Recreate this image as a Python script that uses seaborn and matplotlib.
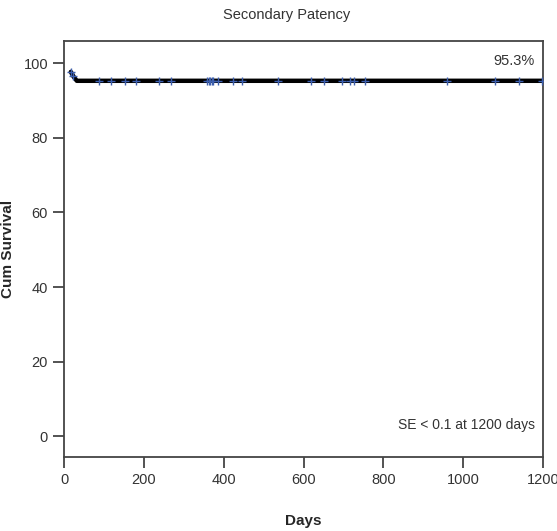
import numpy as np
import pandas as pd
import matplotlib
matplotlib.use("Agg")
import matplotlib.pyplot as plt
import seaborn as sns

# survival curve (days, cumulative survival %)
curve_days = [17, 24, 32, 1200]
curve_surv = [97.7, 96.4, 95.3, 95.3]

# censored observations
censor_days = [17, 23, 88, 118, 152, 179, 239, 268, 358, 362, 366, 370, 374,
               386, 424, 447, 537, 619, 652, 697, 717, 727, 754, 959, 1080,
               1140, 1198]


def surv_at(d):
    return float(np.interp(d, curve_days, curve_surv))


censor_surv = [surv_at(d) for d in censor_days]

sns.set_theme(style="white")
plt.rcParams['font.family'] = ['Liberation Sans', 'DejaVu Sans']

fig = plt.figure(figsize=(5.57, 5.31), dpi=100)
ax = fig.add_axes([0.115, 0.139, 0.86, 0.784])

curve = pd.DataFrame({"Days": curve_days, "Cum Survival": curve_surv})
cens = pd.DataFrame({"Days": censor_days, "Cum Survival": censor_surv})

sns.lineplot(data=curve, x="Days", y="Cum Survival", ax=ax,
             color="black", linewidth=3.2, zorder=2)
sns.scatterplot(data=cens, x="Days", y="Cum Survival", ax=ax,
                marker="+", color="#3d5fae", s=30, linewidth=1.0, zorder=3)

ax.set_xlim(0, 1200)
ax.set_ylim(-5.6, 106)
ax.set_xticks([0, 200, 400, 600, 800, 1000, 1200])
ax.set_yticks([0, 20, 40, 60, 80, 100])

for s in ax.spines.values():
    s.set_color("#444444")
    s.set_linewidth(1.3)

ax.tick_params(axis="both", direction="out", length=8, width=1.3,
               color="#444444", labelcolor="#333333", labelsize=10.5,
               bottom=True, left=True)

ax.set_xlabel("Days", fontsize=11, fontweight="bold", labelpad=19)
ax.set_ylabel("Cum Survival", fontsize=11, fontweight="bold", labelpad=6)
fig.suptitle("Secondary Patency", x=0.515, y=0.985, fontsize=10.5,
             color="#333333")

ax.text(1180, 100.5, "95.3%", ha="right", va="center", fontsize=10.5,
        color="#333333")
ax.text(1180, 3, "SE < 0.1 at 1200 days", ha="right", va="center",
        fontsize=10, color="#333333")

fig.savefig("out.png", dpi=100)
